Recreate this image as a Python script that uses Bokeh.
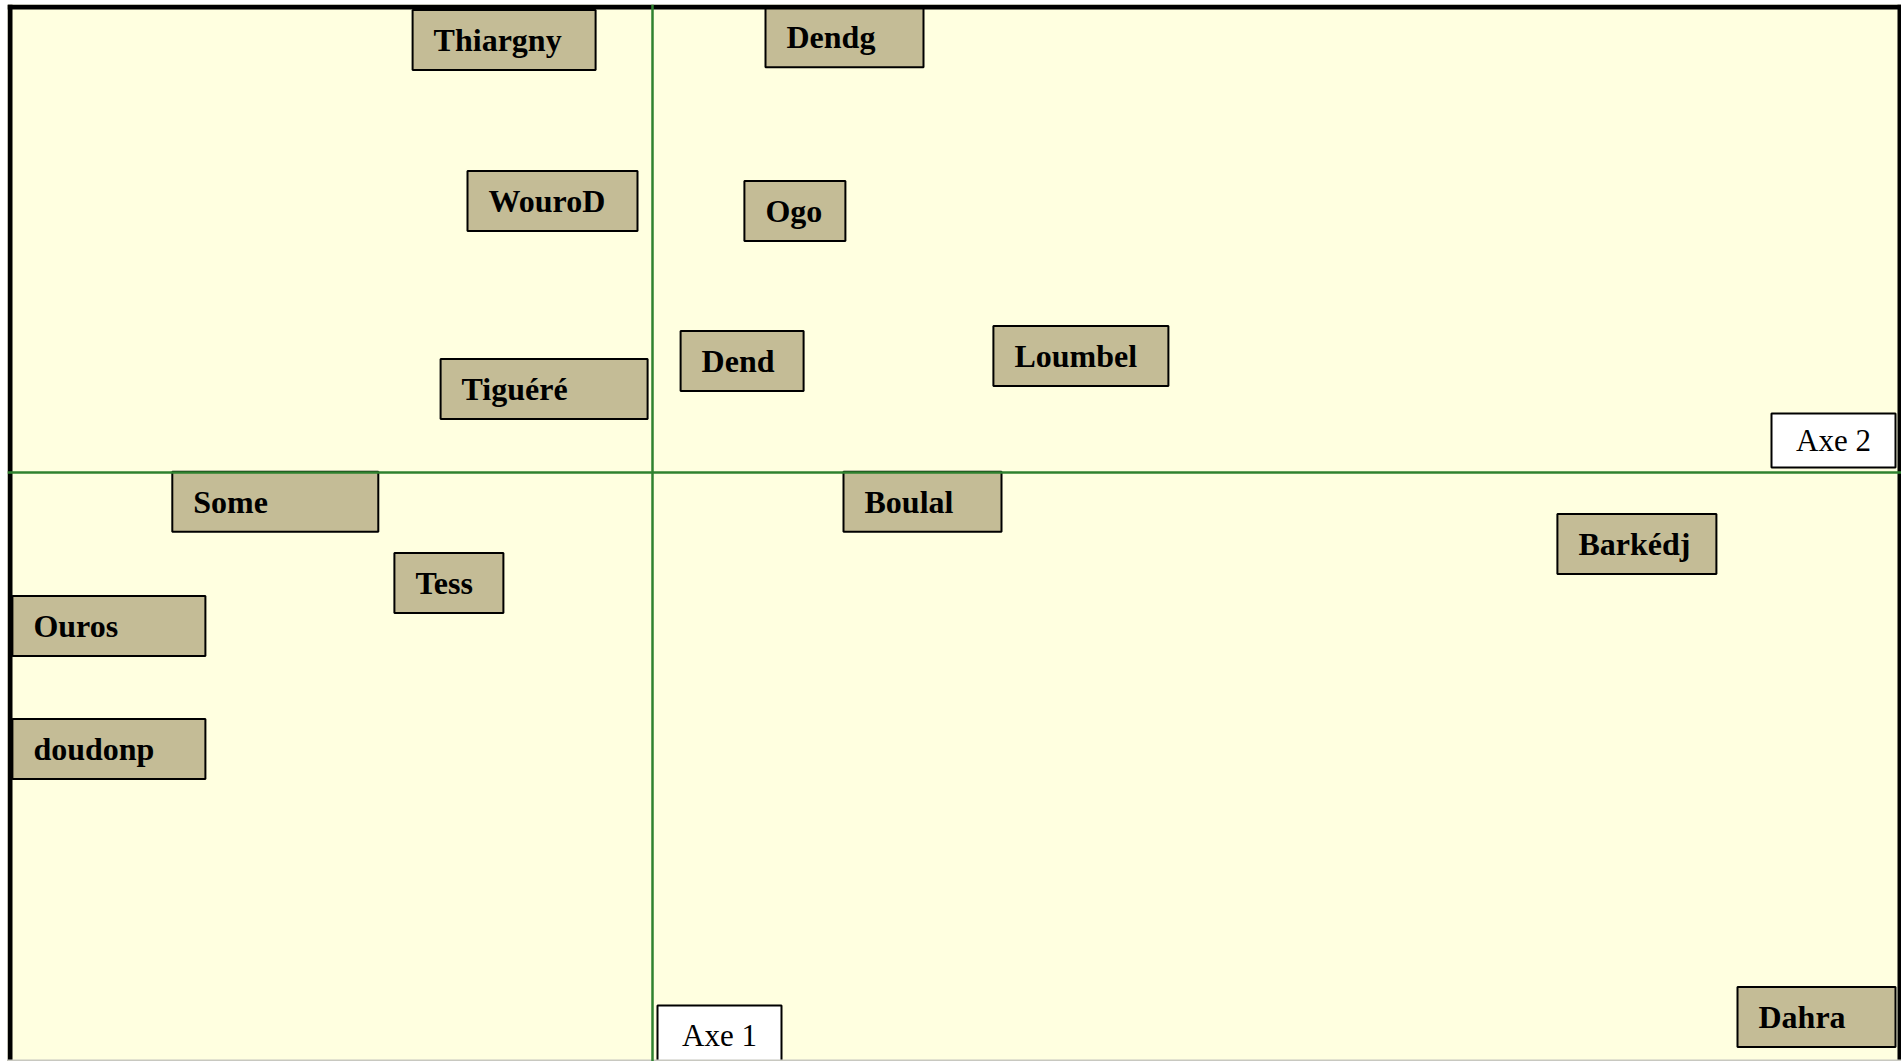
from bokeh.plotting import figure
from bokeh.models import ColumnDataSource, Span, Range1d
from bokeh.embed import file_html
from bokeh.resources import INLINE
from bokeh.core.properties import value

# ---- data (factor-plane coordinates of each site label) ----
sites = ["Thiargny", "Dendg", "WouroD", "Ogo", "Dend", "Loumbel", "Tiguéré",
         "Some", "Boulal", "Barkédj", "Tess", "Ouros", "doudonp", "Dahra"]
axis1 = [-0.371, 0.480, -0.250, 0.356, 0.224, 1.071, -0.271,
         -0.943, 0.675, 2.461, -0.509, -1.359, -1.359, 2.910]
axis2 = [1.081, 1.088, 0.679, 0.654, 0.279, 0.291, 0.209,
         -0.073, -0.073, -0.179, -0.276, -0.384, -0.691, -1.361]
axis_names = ["Axe 1", "Axe 2"]

# ---- styling ----
box_w_px = [183, 158, 170, 101, 123, 175, 207, 206, 158, 159, 109, 193, 193, 158]
BOX_H_PX = 60
PAD_PX = 21
W, H = 1901, 1061
BL, BT, BR, BB = 7, 4, 0, 0
FW, FH = W - BL - BR, H - BT - BB
PPU = 400.0  # pixels per unit
X0 = -645 / PPU
X1 = X0 + FW / PPU
Y1 = 468 / PPU
Y0 = Y1 - FH / PPU

BG = "#FFFFE0"
BOX_FILL = "#C4BC96"
GREEN = "#2f822f"
FONT = value("Liberation Serif")

p = figure(width=W, height=H, x_range=Range1d(X0, X1), y_range=Range1d(Y0, Y1),
           output_backend="svg", toolbar_location=None,
           x_axis_location=None, y_axis_location=None,
           min_border_left=BL, min_border_top=BT, min_border_right=BR,
           min_border_bottom=BB)
p.grid.visible = False
p.background_fill_color = BG
p.border_fill_color = "white"
p.outline_line_color = None

# frame border (left, top, right) and faint bottom edge
p.add_layout(Span(location=X0 + 2.5 / PPU, dimension="height", line_color="black", line_width=5))
p.add_layout(Span(location=Y1 - 2.5 / PPU, dimension="width", line_color="black", line_width=5))
p.add_layout(Span(location=X1 - 2 / PPU, dimension="height", line_color="black", line_width=4))
p.add_layout(Span(location=Y0 + 1 / PPU, dimension="width", line_color="#c8c8c0", line_width=2))

p.add_layout(Span(location=0, dimension="height", line_color=GREEN, line_width=2.5))
p.add_layout(Span(location=0, dimension="width", line_color=GREEN, line_width=2.5))

half_w = [w / 2 / PPU for w in box_w_px]
src = ColumnDataSource(dict(
    name=sites,
    left=[x - hw for x, hw in zip(axis1, half_w)],
    right=[x + hw for x, hw in zip(axis1, half_w)],
    top=[y + BOX_H_PX / 2 / PPU for y in axis2],
    bottom=[y - BOX_H_PX / 2 / PPU for y in axis2],
    tx=[x - hw + PAD_PX / PPU for x, hw in zip(axis1, half_w)],
    ty=axis2,
))
p.quad(left="left", right="right", top="top", bottom="bottom", source=src,
       fill_color=BOX_FILL, line_color="black", line_width=2)
p.text(x="tx", y="ty", text="name", source=src, text_font=FONT,
       text_font_style="bold", text_font_size="32px", text_color="black",
       text_align="left", text_baseline="middle")

# ---- axis name boxes ----
ax_w = 124 / PPU
a1_left = 0 + 5 / PPU
a2_right = X1 - 6 / PPU
a2_bottom = 0 + 5 / PPU
ax_src = ColumnDataSource(dict(
    left=[a1_left, a2_right - ax_w],
    right=[a1_left + ax_w, a2_right],
    top=[Y0 + 56 / PPU, a2_bottom + 54 / PPU],
    bottom=[Y0 - 0.05, a2_bottom],
    tx=[a1_left + ax_w / 2, a2_right - ax_w / 2],
    ty=[Y0 + 26 / PPU, a2_bottom + 27 / PPU],
    name=axis_names,
))
p.quad(left="left", right="right", top="top", bottom="bottom", source=ax_src,
       fill_color="white", line_color="black", line_width=2)
p.text(x="tx", y="ty", text="name", source=ax_src, text_font=FONT,
       text_font_size="31px", text_color="black",
       text_align="center", text_baseline="middle")

open("out.html", "w").write(file_html(p, INLINE))
